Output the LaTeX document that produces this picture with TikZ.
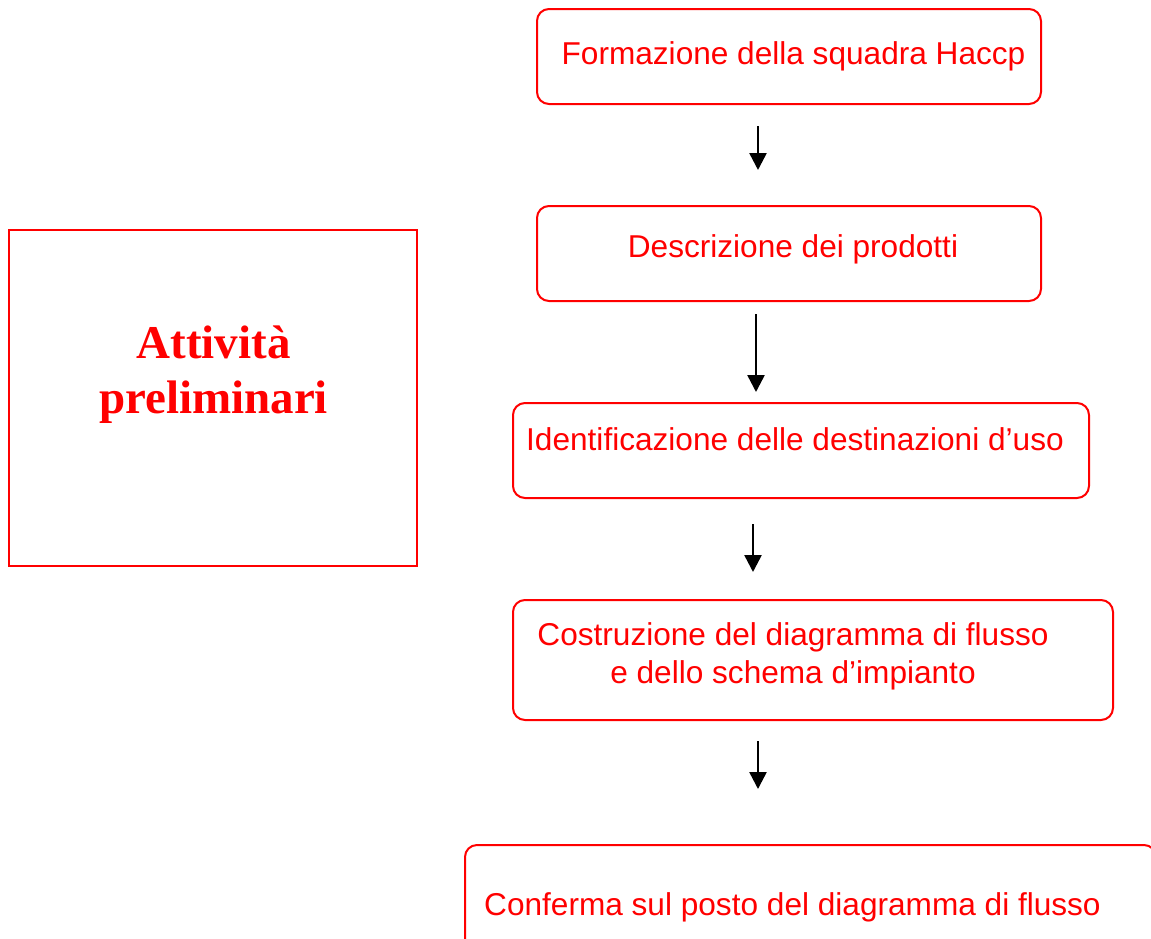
\documentclass[tikz,border=0pt]{standalone}
\usepackage{fontspec}
\setmainfont{Liberation Sans}
\newfontfamily\titlefont{Liberation Serif}
\usetikzlibrary{arrows.meta}
\definecolor{boxred}{RGB}{255,0,0}
\tikzset{
  rbox/.style={draw=boxred, line width=2pt, rounded corners=12pt, inner sep=0pt},
  sbox/.style={draw=boxred, line width=2pt, inner sep=0pt},
  txt/.style={text=boxred, font=\fontsize{31.6}{38}\selectfont, inner sep=0pt},
  ttl/.style={text=boxred, font=\titlefont\bfseries\fontsize{47}{55}\selectfont, inner sep=0pt},
  arr/.style={line width=2.5pt, -{Triangle[width=17pt,length=17pt]}}
}
\begin{document}
\begin{tikzpicture}[x=1pt,y=-1pt]
\useasboundingbox (0,0) rectangle (1151,938);
\clip (0,0) rectangle (1151,938);
% left box
\node[sbox, minimum width=408, minimum height=336] (lb) at (213,398) {};
\node[ttl, anchor=base] (tl1) at (213.5,358) {Attività};
\node[ttl, anchor=base] (tl2) at (213.5,413) {preliminari};
% boxes
\node[rbox, minimum width=504, minimum height=95] (b1) at (789,56.5) {};
\node[rbox, minimum width=504, minimum height=95] (b2) at (789,253.5) {};
\node[rbox, minimum width=576, minimum height=95] (b3) at (801,450.5) {};
\node[rbox, minimum width=600, minimum height=120] (b4) at (813,660) {};
\node[rbox, minimum width=691, minimum height=135] (b5) at (810.5,912.5) {};
% texts
\node[txt, anchor=base] (t1) at (793.5,64) {Formazione della squadra Haccp};
\node[txt, anchor=base] (t2) at (793,257) {Descrizione dei prodotti};
\node[txt, anchor=base west] (t3) at (526,450) {Identificazione delle destinazioni d’uso};
\node[txt, anchor=base, align=center] (t4) at (793,683) {Costruzione del diagramma di flusso\\e dello schema d’impianto};
\node[txt, anchor=base west] (t5) at (484,915) {Conferma sul posto del diagramma di flusso};
% arrows
\coordinate (a1s) at (758,126); \coordinate (a1e) at (758,170);
\coordinate (a2s) at (756,314); \coordinate (a2e) at (756,392);
\coordinate (a3s) at (753,524); \coordinate (a3e) at (753,572);
\coordinate (a4s) at (758,741); \coordinate (a4e) at (758,789);
\draw[arr] (a1s) -- (a1e);
\draw[arr] (a2s) -- (a2e);
\draw[arr] (a3s) -- (a3e);
\draw[arr] (a4s) -- (a4e);
\end{tikzpicture}
\end{document}
